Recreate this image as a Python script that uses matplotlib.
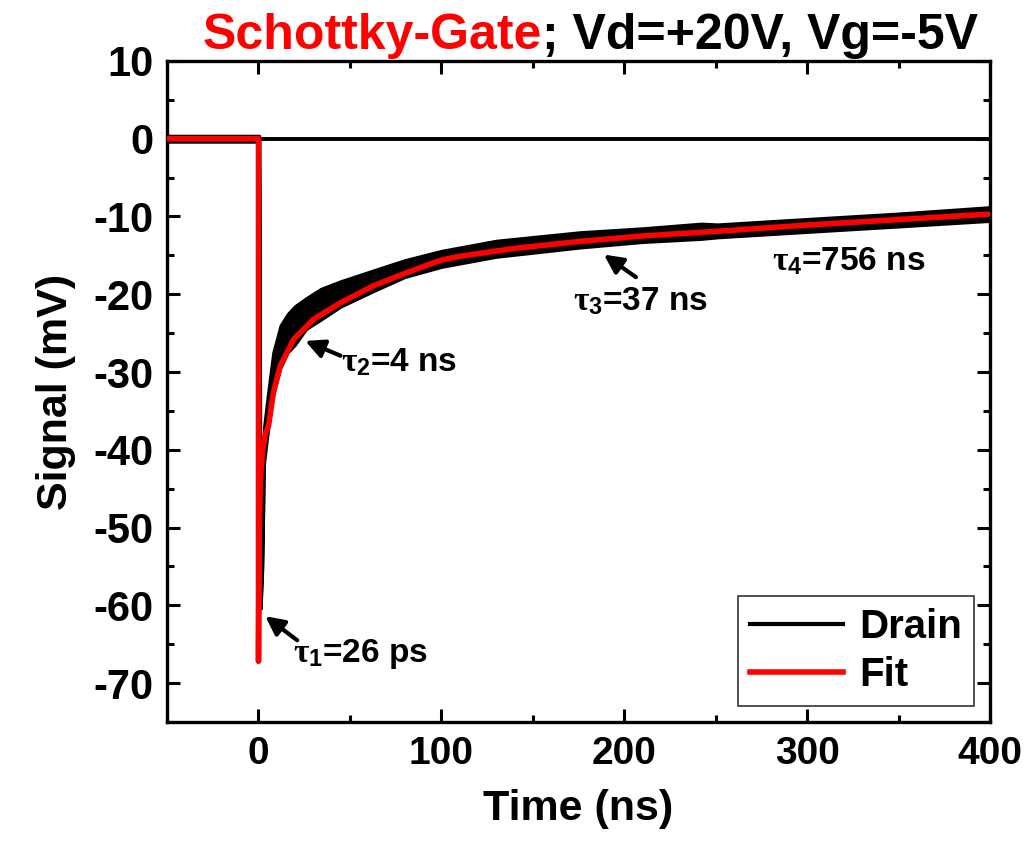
import numpy as np
import matplotlib
matplotlib.use("Agg")
import matplotlib.pyplot as plt
from matplotlib.lines import Line2D
from matplotlib.ticker import MultipleLocator

plt.rcParams['font.family'] = ['Liberation Sans', 'DejaVu Sans']
plt.rcParams['font.weight'] = 'bold'
plt.rcParams['axes.unicode_minus'] = False
plt.rcParams['mathtext.fontset'] = 'custom'
plt.rcParams['mathtext.rm'] = 'Liberation Serif'
plt.rcParams['mathtext.it'] = 'Liberation Serif'
plt.rcParams['mathtext.bf'] = 'Liberation Sans:bold'

# ---- data ----
# drain trace: time (ns), lower / upper edge of the noisy band (mV)
drain_t = [-50, -25, 0, 0.4, 1.2, 2.2, 3, 5, 8, 12, 16, 20, 26, 34, 45, 63, 80,
           100, 130, 176, 210, 242, 251, 300, 350, 399]
drain_lo = [-0.4, -0.4, -0.4, -0.4, -60.4, -55, -42, -38, -33, -29.5, -27.5, -26.5,
            -24.5, -23.3, -21.6, -19.6, -17.8, -16.5, -15.2, -14.0, -13.3, -12.9,
            -12.7, -12.0, -11.3, -10.6]
drain_hi = [0.4, 0.4, 0.4, 0.4, -60.4, -50, -37, -33, -27.5, -24, -22.5, -21.5,
            -20.5, -19.3, -18.3, -16.9, -15.6, -14.4, -13.1, -12.0, -11.5, -10.9,
            -11.0, -10.3, -9.6, -8.8]

# multi-exponential fit
fit_t = [-50, -0.3, 0, 0, 0.3, 1.0, 2.0, 3.7, 5.5, 8.2, 11.9, 19.2, 30.2, 44.8, 63,
         81.3, 100, 110.5, 140, 176, 210, 251, 300, 350, 399]
fit_v = [0, 0, 0, -67.2, -52, -44, -40.5, -38.0, -36.9, -32.6, -29.2, -25.8, -23.2,
         -21.1, -18.9, -17.2, -15.6, -15.1, -14.1, -13.2, -12.5, -11.9, -11.1, -10.4,
         -9.7]

# time constants: label, text position, arrow tip, arrow tail
tau_labels = [r'$\tau_\mathbf{1}$=26 ps', r'$\tau_\mathbf{2}$=4 ns',
              r'$\tau_\mathbf{3}$=37 ns', r'$\tau_\mathbf{4}$=756 ns']
tau_text = [(19, -66.2), (45, -28.8), (172, -20.9), (281, -15.7)]
tau_tips = [(3.7, -61.4), (25.6, -26.0), (188.9, -14.9), None]
tau_tails = [(21.2, -64.5), (44.8, -27.9), (206.4, -17.8), None]

fig = plt.figure(figsize=(10.28, 8.55), dpi=100)
ax = fig.add_axes([0.1625, 0.1556, 0.8005, 0.7731])

ax.axhline(0, color='black', lw=2.8, zorder=1)

drain_mid = (np.array(drain_lo) + np.array(drain_hi)) / 2
ax.fill_between(drain_t, drain_lo, drain_hi, color='black', lw=2.0,
                edgecolor='black', zorder=2)
ax.plot(drain_t, drain_mid, color='black', lw=3, zorder=2)
ax.plot(fit_t, fit_v, color='red', lw=4, solid_capstyle='round', zorder=3)

for lab, pos, tip, tail in zip(tau_labels, tau_text, tau_tips, tau_tails):
    ax.text(pos[0], pos[1], lab, fontsize=24, fontweight='bold',
            ha='left', va='center', zorder=5)
    if tip is not None:
        ax.annotate('', xy=tip, xytext=tail, zorder=5,
                    arrowprops=dict(arrowstyle='-|>', color='black', lw=3,
                                    mutation_scale=28, shrinkA=0, shrinkB=0))

ax.set_xlim(-50, 400)
ax.set_ylim(-75, 10)
ax.xaxis.set_major_locator(MultipleLocator(100))
ax.xaxis.set_minor_locator(MultipleLocator(50))
ax.yaxis.set_major_locator(MultipleLocator(10))
ax.yaxis.set_minor_locator(MultipleLocator(5))
ax.tick_params(which='both', direction='in', top=True, right=True, width=2.2,
               pad=10)
ax.tick_params(axis='x', labelsize=28)
ax.tick_params(axis='y', labelsize=30)
ax.tick_params(which='major', length=9.5)
ax.tick_params(which='minor', length=5)
for s in ax.spines.values():
    s.set_linewidth(2.4)

ax.set_xlabel('Time (ns)', fontsize=31, fontweight='bold', labelpad=12)
ax.set_ylabel('Signal (mV)', fontsize=31, fontweight='bold', labelpad=12)

handles = [Line2D([], [], color='black', lw=3), Line2D([], [], color='red', lw=4)]
leg = ax.legend(handles, ['Drain', 'Fit'], loc='lower right', fontsize=29,
                frameon=True, fancybox=False, edgecolor='black',
                handlelength=2.3, handletextpad=0.4, labelspacing=0.25,
                borderpad=0.3, borderaxespad=0.4)
leg.get_frame().set_linewidth(1.2)
for t in leg.get_texts():
    t.set_fontweight('bold')

t1 = fig.text(0.1975, 0.9427, 'Schottky-Gate', color='red', fontsize=36,
              fontweight='bold', ha='left', va='baseline')
ax.annotate('; Vd=+20V, Vg=-5V', xy=(1, 0), xycoords=t1, fontsize=36,
            fontweight='bold', color='black', ha='left', va='bottom',
            annotation_clip=False)

fig.savefig('out.png', dpi=100)
